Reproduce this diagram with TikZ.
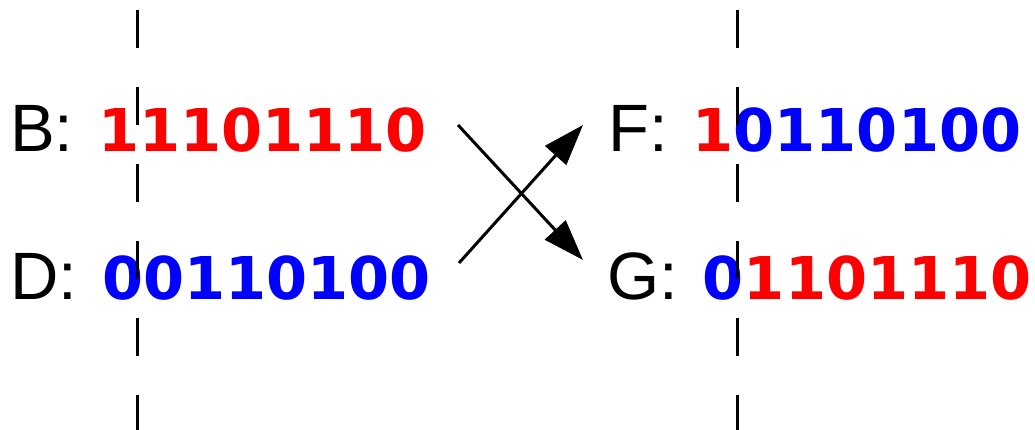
\documentclass[tikz,border=0pt]{standalone}
\usepackage{fontspec}
\setmainfont{Liberation Sans}
\newfontfamily\digitfont{DejaVu Sans}
\usetikzlibrary{arrows.meta}
\definecolor{pred}{RGB}{255,0,0}
\definecolor{pblue}{RGB}{0,0,255}
\newcommand{\R}[1]{{\digitfont\bfseries\fontsize{59}{72}\selectfont\color{pred}#1}}
\newcommand{\Bl}[1]{{\digitfont\bfseries\fontsize{59}{72}\selectfont\color{pblue}#1}}
\begin{document}
\begin{tikzpicture}[x=1pt,y=1pt,
  lbl/.style={inner sep=0pt, anchor=base west, font=\fontsize{67}{80}\selectfont},
  cut/.style={line width=3pt, dash pattern=on 38pt off 39pt},
  swap/.style={line width=3pt, -{Triangle[length=41pt,width=28pt]}}]
\useasboundingbox (0,0) rectangle (1035,430);
\node[lbl] (B) at (10,278) {B:\hspace{25pt}\R{11101110}};
\node[lbl] (D) at (10,130) {D:\hspace{25pt}\Bl{00110100}};
\node[lbl] (F) at (608,278) {F:\hspace{25pt}\R{1}\Bl{0110100}};
\node[lbl] (G) at (607,130) {G:\hspace{25pt}\Bl{0}\R{1101110}};
\coordinate (bs) at (458,305);
\coordinate (ds) at (459,167);
\coordinate (ft) at (583,305);
\coordinate (gt) at (583,170);
\draw[swap] (bs) -- (gt);
\draw[swap] (ds) -- (ft);
\coordinate (c1t) at (137,420);
\coordinate (c1b) at (137,0);
\coordinate (c2t) at (737,420);
\coordinate (c2b) at (737,0);
\draw[cut] (c1t) -- (c1b);
\draw[cut] (c2t) -- (c2b);
\end{tikzpicture}
\end{document}
